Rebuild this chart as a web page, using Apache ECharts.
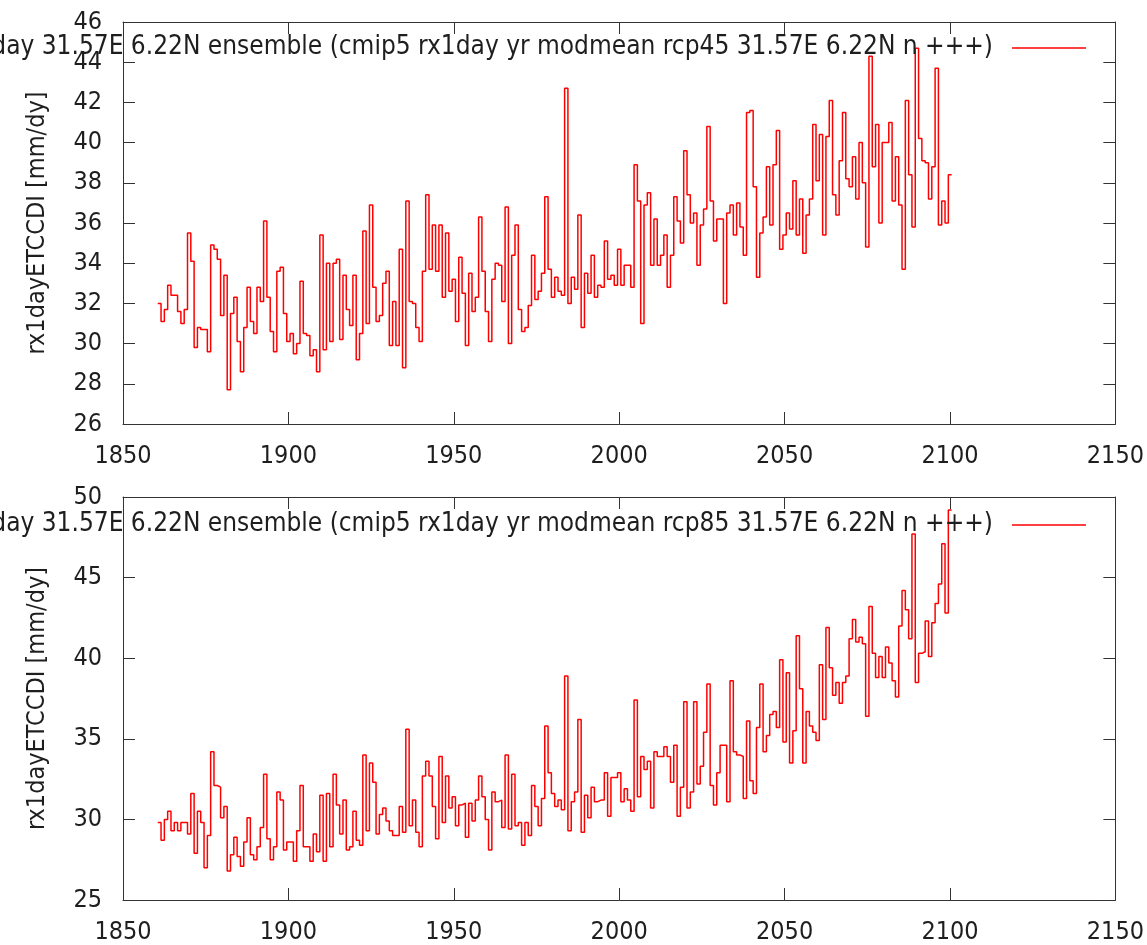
<!DOCTYPE html>
<html>
<head>
<meta charset="utf-8">
<script src="https://cdn.jsdelivr.net/npm/echarts@6/dist/echarts.min.js"></script>
<style>
  html, body { margin: 0; padding: 0; background: #fff; }
  #chart { width: 1147px; height: 945px; }
</style>
</head>
<body>
<div id="chart"></div>
<script>
// first model year, one value per year 1861..2100
const startYear = 1861;

// rx1day, rcp45 ensemble mean (mm/dy)
const rcp45Values = [
  32.0, 31.1, 31.7, 32.9, 32.4, 32.4, 31.6, 31.0, 31.7, 35.5,
  34.1, 29.8, 30.8, 30.7, 30.7, 29.6, 34.9, 34.7, 34.2, 31.4,
  33.4, 27.7, 31.5, 32.3, 30.1, 28.6, 30.8, 32.8, 31.1, 30.5,
  32.8, 32.1, 36.1, 32.3, 30.6, 29.6, 33.6, 33.8, 31.5, 30.1,
  30.5, 29.5, 30.0, 33.1, 30.5, 30.4, 29.4, 29.7, 28.6, 35.4,
  29.7, 34.0, 30.1, 34.0, 34.2, 30.2, 33.4, 31.7, 30.9, 33.4,
  29.2, 30.5, 35.6, 31.0, 36.9, 32.8, 31.1, 31.4, 33.0, 33.6,
  29.9, 32.1, 29.9, 34.7, 28.8, 37.1, 32.1, 32.0, 30.8, 30.1,
  33.6, 37.4, 33.7, 35.9, 33.6, 35.9, 32.3, 35.5, 32.6, 33.2,
  31.1, 34.3, 32.5, 29.9, 33.5, 31.6, 32.3, 36.3, 33.6, 31.6,
  30.1, 33.2, 34.0, 33.9, 32.1, 36.8, 30.0, 34.4, 35.9, 31.7,
  30.6, 30.8, 31.9, 34.4, 32.2, 32.6, 33.5, 37.3, 33.7, 32.3,
  33.3, 32.6, 32.4, 42.7, 32.0, 33.3, 32.7, 36.4, 30.8, 33.5,
  32.5, 34.4, 32.3, 32.9, 32.8, 35.1, 33.2, 33.4, 32.9, 34.7,
  32.9, 33.9, 33.9, 32.8, 38.9, 37.1, 31.0, 36.9, 37.5, 33.9,
  36.2, 33.9, 34.4, 35.4, 32.8, 34.4, 37.3, 36.1, 35.0, 39.6,
  37.4, 36.0, 36.5, 33.9, 35.9, 36.7, 40.8, 37.1, 35.1, 36.2,
  36.2, 32.0, 36.5, 36.9, 35.4, 37.0, 35.8, 34.4, 41.5, 41.6,
  37.8, 33.3, 35.5, 36.3, 38.8, 35.9, 38.9, 40.6, 34.7, 35.4,
  36.5, 35.7, 38.1, 35.4, 37.2, 34.5, 36.4, 37.2, 40.9, 38.1,
  40.4, 35.4, 40.3, 42.1, 37.4, 36.4, 39.1, 41.5, 38.2, 37.8,
  39.3, 37.2, 40.0, 38.0, 34.8, 44.3, 38.8, 40.9, 36.0, 40.0,
  40.0, 41.0, 37.1, 39.3, 36.9, 33.7, 42.1, 38.4, 35.8, 44.7,
  40.2, 39.1, 39.0, 37.2, 38.8, 43.7, 35.9, 37.1, 36.0, 38.4
];

// rx1day, rcp85 ensemble mean (mm/dy)
const rcp85Values = [
  29.8, 28.7, 30.0, 30.5, 29.3, 29.8, 29.3, 29.8, 29.8, 29.1,
  31.6, 27.9, 30.5, 29.8, 27.0, 29.0, 34.2, 32.1, 32.0, 30.1,
  30.8, 26.8, 27.8, 28.9, 27.7, 27.1, 28.6, 30.1, 27.8, 27.5,
  28.3, 29.5, 32.8, 28.8, 27.5, 28.3, 31.7, 31.2, 28.1, 28.6,
  28.6, 27.4, 29.3, 32.1, 28.3, 28.3, 27.4, 29.1, 28.0, 31.5,
  27.4, 31.6, 28.3, 32.8, 30.9, 29.1, 31.2, 28.1, 28.3, 30.5,
  28.7, 28.4, 34.0, 29.3, 33.5, 32.3, 29.1, 30.3, 30.7, 29.9,
  29.3, 29.0, 29.0, 30.8, 29.2, 35.6, 29.6, 31.2, 29.2, 28.3,
  32.7, 33.6, 32.7, 30.8, 28.8, 33.9, 29.8, 32.7, 30.7, 31.4,
  29.6, 30.9, 31.0, 28.9, 31.0, 29.9, 31.2, 32.7, 31.4, 30.0,
  28.1, 31.7, 31.1, 31.2, 29.5, 34.0, 29.4, 32.8, 29.6, 29.8,
  28.4, 29.8, 29.0, 32.1, 30.8, 29.6, 31.3, 35.8, 32.9, 31.6,
  30.8, 31.2, 30.6, 38.9, 29.3, 31.1, 31.7, 36.2, 29.2, 31.5,
  30.1, 32.0, 31.1, 31.2, 31.2, 32.9, 30.2, 32.6, 32.6, 32.9,
  31.1, 31.9, 31.2, 30.5, 37.4, 31.4, 33.9, 33.1, 33.6, 30.7,
  34.2, 33.9, 33.9, 34.5, 33.9, 32.3, 34.6, 30.2, 32.0, 37.3,
  30.7, 31.7, 37.3, 32.2, 33.3, 35.4, 38.4, 32.1, 30.9, 32.9,
  34.6, 34.6, 31.1, 38.6, 34.2, 34.0, 33.9, 31.3, 36.1, 32.4,
  31.6, 35.7, 38.4, 34.2, 35.2, 36.5, 36.7, 35.7, 39.9, 34.8,
  39.1, 33.5, 35.5, 41.4, 38.1, 33.5, 36.7, 35.8, 35.4, 34.9,
  39.6, 36.2, 41.9, 39.4, 37.7, 38.5, 37.2, 38.5, 38.9, 41.2,
  42.4, 41.0, 41.3, 40.9, 36.4, 43.2, 40.3, 38.8, 40.1, 38.8,
  40.7, 39.7, 38.6, 37.6, 42.0, 44.2, 43.0, 41.2, 47.7, 38.5,
  40.3, 40.4, 42.3, 40.1, 42.2, 43.4, 44.6, 47.1, 42.8, 49.2
];

// axis ranges / ticks
const xRange = [1850, 2150], xStep = 50;
const yRange45 = [26, 46], yStep45 = 2;
const yRange85 = [25, 50], yStep85 = 5;

const yName = 'rx1dayETCCDI [mm/dy]';
const key45 = 'rx1day 31.57E 6.22N ensemble (cmip5 rx1day yr modmean rcp45 31.57E 6.22N n +++)';
const key85 = 'rx1day 31.57E 6.22N ensemble (cmip5 rx1day yr modmean rcp85 31.57E 6.22N n +++)';

const FONT = "'DejaVu Sans Condensed', 'DejaVu Sans'";
const INK = '#1e1e1e';
const FRAME = '#333';
const RED = '#ff0000';

// histeps: every year is a flat segment from y-0.5 to y+0.5
function toSteps(values) {
  const pts = values.map((v, i) => [startYear + i - 0.5, v]);
  pts.push([startYear + values.length - 0.5, values[values.length - 1]]);
  return pts;
}

function xAx(grid, pos, labels, margin) {
  return {
    type: 'value', gridIndex: grid, position: pos,
    min: xRange[0], max: xRange[1], interval: xStep,
    axisLine: { show: true, onZero: false, lineStyle: { color: FRAME, width: 1 } },
    axisTick: { show: true, inside: true, length: 12, lineStyle: { color: FRAME } },
    axisLabel: { show: labels, margin: margin, color: INK, fontSize: 25, fontFamily: FONT,
                 formatter: v => String(v) },
    splitLine: { show: false }
  };
}

function yAx(grid, pos, range, step, labels) {
  const ax = {
    type: 'value', gridIndex: grid, position: pos,
    min: range[0], max: range[1], interval: step,
    axisLine: { show: true, onZero: false, lineStyle: { color: FRAME, width: 1 } },
    axisTick: { show: true, inside: true, length: 12, lineStyle: { color: FRAME } },
    axisLabel: { show: labels, margin: 21, color: INK, fontSize: 25, fontFamily: FONT },
    splitLine: { show: false }
  };
  if (labels) {
    ax.name = yName;
    ax.nameLocation = 'middle';
    ax.nameGap = 73;
    ax.nameTextStyle = { color: INK, fontSize: 25, fontFamily: FONT };
  }
  return ax;
}

function keyItems(text, y) {
  return [
    { type: 'text', x: 993, y: y, z: 10,
      style: { text: text, align: 'right', verticalAlign: 'middle',
               font: "26px 'DejaVu Sans Condensed', 'DejaVu Sans'", fill: INK } },
    { type: 'line', z: 10,
      shape: { x1: 1012, y1: y + 1, x2: 1086, y2: y + 1 },
      style: { stroke: RED, lineWidth: 1.5 } }
  ];
}

const chart = echarts.init(document.getElementById('chart'), null, { renderer: 'canvas' });
chart.setOption({
  animation: false,
  backgroundColor: '#fff',
  grid: [
    { left: 123, top: 22, width: 993, height: 402 },
    { left: 123, top: 497, width: 993, height: 404 }
  ],
  xAxis: [
    xAx(0, 'bottom', true, 20),
    xAx(0, 'top', false, 8),
    xAx(1, 'bottom', true, 20),
    xAx(1, 'top', false, 8)
  ],
  yAxis: [
    yAx(0, 'left', yRange45, yStep45, true),
    yAx(0, 'right', yRange45, yStep45, false),
    yAx(1, 'left', yRange85, yStep85, true),
    yAx(1, 'right', yRange85, yStep85, false)
  ],
  series: [
    { type: 'line', xAxisIndex: 0, yAxisIndex: 0, step: 'end', symbol: 'none',
      lineStyle: { color: RED, width: 1.5 }, data: toSteps(rcp45Values) },
    { type: 'line', xAxisIndex: 2, yAxisIndex: 2, step: 'end', symbol: 'none',
      lineStyle: { color: RED, width: 1.5 }, data: toSteps(rcp85Values) }
  ],
  graphic: keyItems(key45, 47).concat(keyItems(key85, 524))
});
</script>
</body>
</html>
